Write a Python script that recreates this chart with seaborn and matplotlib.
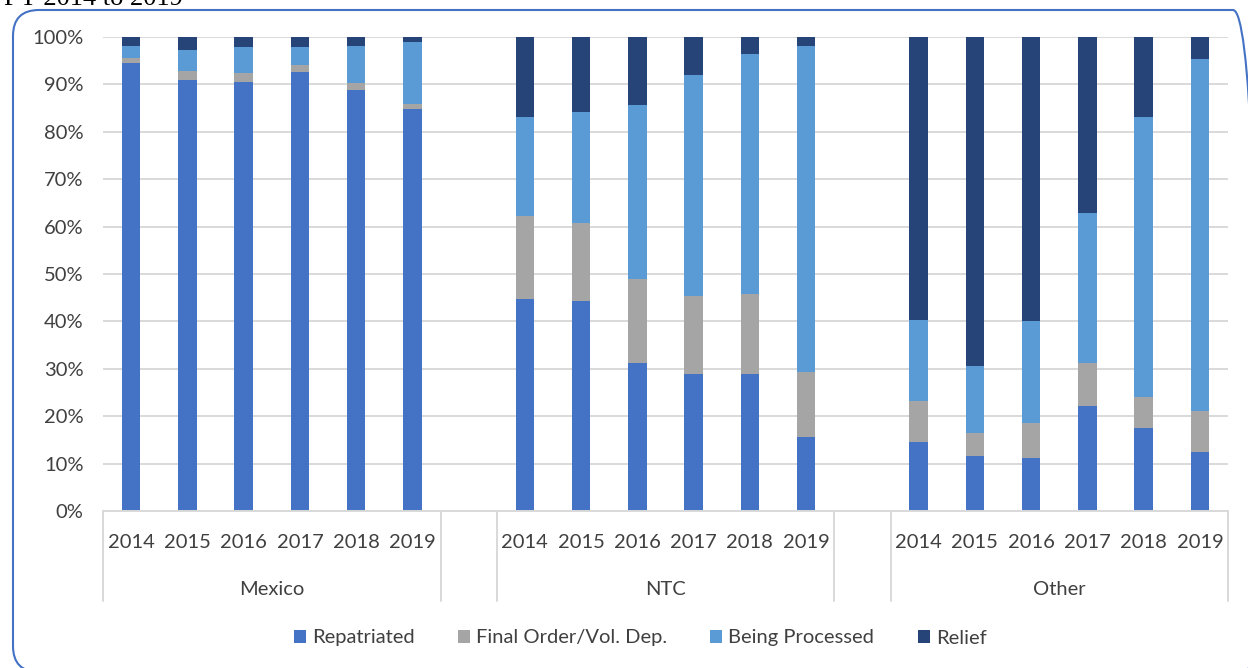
import matplotlib
matplotlib.use('Agg')
import matplotlib.pyplot as plt
import seaborn as sns
import pandas as pd
from matplotlib.patches import Patch, FancyBboxPatch
from matplotlib.transforms import blended_transform_factory

# values in percent, order: Mexico 2014-2019, NTC 2014-2019, Other 2014-2019
groups = ['Mexico', 'NTC', 'Other']
years = ['2014', '2015', '2016', '2017', '2018', '2019']
repatriated = [94.5, 90.9, 90.5, 92.7, 88.8, 84.8,
               44.7, 44.2, 31.2, 28.8, 29.0, 15.6,
               14.6, 11.5, 11.2, 22.2, 17.5, 12.4]
final_order = [1.1, 2.0, 1.9, 1.3, 1.4, 1.0,
               17.6, 16.6, 17.8, 16.5, 16.8, 13.7,
               8.7, 5.0, 7.4, 9.0, 6.6, 8.6]
being_processed = [2.6, 4.4, 5.5, 3.9, 8.0, 13.1,
                   20.8, 23.4, 36.7, 46.7, 50.7, 68.7,
                   17.0, 14.0, 21.4, 31.7, 59.0, 74.4]
relief = [1.8, 2.7, 2.1, 2.1, 1.8, 1.1,
          16.9, 15.8, 14.3, 8.0, 3.5, 2.0,
          59.7, 69.5, 60.0, 37.1, 16.9, 4.6]

series = ['Repatriated', 'Final Order/Vol. Dep.', 'Being Processed', 'Relief']
colors = ['#4472C4', '#A5A5A5', '#5B9BD5', '#264478']

slots = [f'{g} {y}' for g in groups for y in years]
df = pd.DataFrame({'slot': slots, 'rep': repatriated, 'fin': final_order,
                   'proc': being_processed, 'rel': relief})
df['c1'] = df['rep']
df['c2'] = df['c1'] + df['fin']
df['c3'] = df['c2'] + df['proc']
df['c4'] = df['c3'] + df['rel']

# empty slot between groups
order = []
for i, g in enumerate(groups):
    order += [f'{g} {y}' for y in years]
    if i < len(groups) - 1:
        order.append(' ' * (i + 1))

sns.set_style('white')
plt.rcParams['font.family'] = ['Lato', 'DejaVu Sans']
text_color = '#404040'
grid_color = '#D9D9D9'

fig = plt.figure(figsize=(12.48, 6.68), dpi=100)
ax = fig.add_axes([103 / 1248, 1 - 511 / 668, 1125 / 1248, 474 / 668])

for col, c in zip(['c4', 'c3', 'c2', 'c1'], colors[::-1]):
    sns.barplot(data=df, x='slot', y=col, order=order, color=c,
                saturation=1, width=0.33, linewidth=0, errorbar=None, ax=ax)

ax.set_xlim(-0.5, len(order) - 0.5)
ax.set_ylim(0, 100)
ax.set_yticks(range(0, 101, 10))
ax.set_yticklabels([f'{v}%' for v in range(0, 101, 10)])
ax.yaxis.grid(True, color=grid_color, linewidth=1.4)
ax.set_axisbelow(True)
for s in ['left', 'right', 'top']:
    ax.spines[s].set_visible(False)
ax.spines['bottom'].set_color(grid_color)
ax.spines['bottom'].set_linewidth(1.4)
ax.set_xlabel('')
ax.set_ylabel('')

ax.set_xticks(range(len(order)))
ax.set_xticklabels([o.split(' ')[1] if o.strip() else '' for o in order])
ax.tick_params(axis='x', length=0, pad=16.5, labelsize=14.5, colors=text_color)
ax.tick_params(axis='y', length=0, pad=14, labelsize=14.5, colors=text_color)

# multi-level category axis
tr = blended_transform_factory(ax.transData, ax.transAxes)
for i, g in enumerate(groups):
    start = i * 7
    ax.text(start + 2.5, -0.166, g, transform=tr, ha='center', va='center',
            fontsize=14.5, color=text_color)
    for xs in (start - 0.5, start + 5.5):
        ax.plot([xs, xs], [0, -0.19], transform=tr, color=grid_color,
                linewidth=1.4, clip_on=False)

handles = [Patch(facecolor=c, edgecolor='none', label=s) for s, c in zip(series, colors)]
fig.legend(handles=handles, loc='center', bbox_to_anchor=(640 / 1248, 1 - 638 / 668),
           ncol=4, frameon=False, fontsize=14.5, handlelength=0.6, handleheight=0.6,
           handletextpad=0.3, columnspacing=2.15, labelcolor=text_color)

# chart frame and the clipped caption above it
frame = FancyBboxPatch((13, -4), 1246, 662, boxstyle='round,pad=0,rounding_size=26',
                       transform=None, fill=False, edgecolor='#4472C4', linewidth=1.5)
fig.patches.append(frame)
fig.text(4 / 1248, 1 - 5 / 668, 'FY 2014 to 2019', fontsize=19,
         family='Liberation Serif', va='baseline', color='black')

fig.savefig('out.png', dpi=100)
